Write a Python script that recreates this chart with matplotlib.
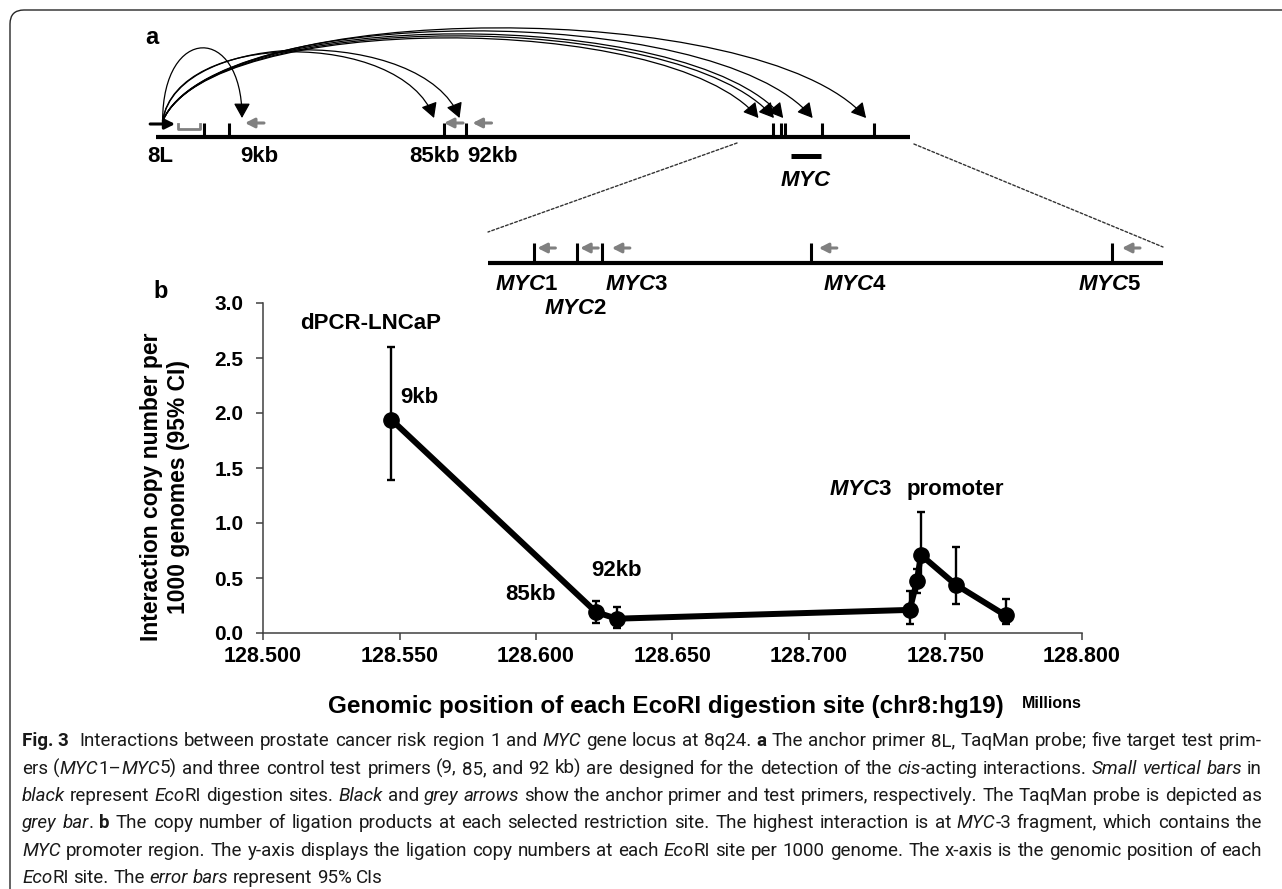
import re
import matplotlib.pyplot as plt
from matplotlib import font_manager
from matplotlib.path import Path
from matplotlib.patches import FancyArrowPatch, PathPatch, ConnectionPatch

plt.rcParams['font.family'] = ['Liberation Sans', 'DejaVu Sans']
plt.rcParams['font.weight'] = 'bold'
plt.rcParams['mathtext.fontset'] = 'custom'
plt.rcParams['mathtext.rm'] = 'Liberation Sans:bold'
plt.rcParams['mathtext.bf'] = 'Liberation Sans:bold'
plt.rcParams['mathtext.it'] = 'Liberation Sans:italic:bold'

# ---- data: EcoRI sites on chr8 (hg19, Mb) and dPCR copy numbers ----
site_names = ['9kb', '85kb', '92kb', 'MYC1', 'MYC2', 'MYC3', 'MYC4', 'MYC5']
site_pos = [128.5470, 128.6220, 128.6295, 128.7369, 128.7395, 128.7410, 128.7537, 128.7720]
copies = [1.94, 0.19, 0.13, 0.21, 0.47, 0.71, 0.44, 0.16]
ci_low = [1.39, 0.09, 0.05, 0.08, 0.36, 0.45, 0.26, 0.08]
ci_high = [2.60, 0.29, 0.24, 0.38, 0.58, 1.10, 0.78, 0.31]
x_ticks = [128.50, 128.55, 128.60, 128.65, 128.70, 128.75, 128.80]
y_ticks = [0.0, 0.5, 1.0, 1.5, 2.0, 2.5, 3.0]

# schematic features of panel a (Mb)
anchor_site = 128.5383
anchor_primer = (128.5195, 128.5282)
taqman_probe = (128.5292, 128.5369)
myc_gene = (128.7430, 128.7535)
zoom_region = (128.7242, 128.7859)

W, H = 1282, 889
fig = plt.figure(figsize=(W / 100, H / 100), dpi=100)


def px_axes(x0, y0, x1, y1):
    # axes from a pixel box, origin top-left
    return fig.add_axes([x0 / W, 1 - y1 / H, (x1 - x0) / W, (y1 - y0) / H])


def shift(ax, x, y, dx=0, dy=0):
    # move a data point by screen pixels (dy > 0 goes down)
    px, py = ax.transData.transform((x, y))
    return ax.transData.inverted().transform((px + dx, py - dy))


bg = px_axes(0, 0, W, H)
bg.set_xlim(0, W)
bg.set_ylim(H, 0)
bg.axis('off')

frame = Path([(10, H + 5), (10, 24), (10, 10), (24, 10), (W + 5, 10)],
             [Path.MOVETO, Path.LINETO, Path.CURVE3, Path.CURVE3, Path.LINETO])
bg.add_patch(PathPatch(frame, fill=False, lw=1.0, ec='0.15', clip_on=False))

# ---------------- panel a: overview ----------------
ax_a = px_axes(156, 0, 910, 300)
ax_a.set_xlim(128.52154, 128.78453)
ax_a.set_ylim(300, 0)
ax_a.axis('off')

ax_a.plot(ax_a.get_xlim(), [137, 137], color='black', lw=3, solid_capstyle='butt', clip_on=False)
ax_a.vlines([anchor_site] + site_pos, 123, 137, color='black', lw=2.2)
ax_a.annotate('', xy=(anchor_primer[1], 124), xytext=(anchor_primer[0], 124),
              arrowprops=dict(arrowstyle='-|>,head_length=0.6,head_width=0.3', color='black',
                              lw=2.2, shrinkA=0, shrinkB=0, mutation_scale=10))
ax_a.plot([taqman_probe[0], taqman_probe[0], taqman_probe[1], taqman_probe[1]],
          [124, 129, 129, 124], color='0.5', lw=2)

grey_arrow = dict(arrowstyle='-|>,head_length=0.55,head_width=0.28', color='0.5',
                  lw=2.2, shrinkA=0, shrinkB=0, mutation_scale=10)
top_primer_dx = [16, 0, 7]
for k in range(3):
    head = shift(ax_a, site_pos[k], 123, dx=top_primer_dx[k])
    tail = shift(ax_a, site_pos[k], 123, dx=top_primer_dx[k] + 19)
    ax_a.annotate('', xy=head, xytext=tail, arrowprops=grey_arrow)

# interaction arcs from the anchor to each site
arc_peak = [48, 52, 50, 38, 36, 34, 31, 28]
arc_f1 = [0.0, 0.05, 0.05, 0.08, 0.08, 0.08, 0.08, 0.08]
arc_f2 = [0.0, 0.12, 0.12, 0.15, 0.15, 0.15, 0.15, 0.15]
head_dx = [13, -10, -6, -15, -7, -2, -9, -8]
sx = (anchor_primer[0] + anchor_primer[1]) / 2
for k, x in enumerate(site_pos):
    hx = shift(ax_a, x, 118, dx=head_dx[k])[0]
    yc = (arc_peak[k] - 0.125 * (121 + 118)) / 0.75
    span = hx - sx
    arc = Path([(sx, 121), (sx + arc_f1[k] * span, yc), (hx - arc_f2[k] * span, yc), (hx, 118)],
               [Path.MOVETO, Path.CURVE4, Path.CURVE4, Path.CURVE4])
    ax_a.add_patch(FancyArrowPatch(path=arc, arrowstyle='-|>,head_length=0.9,head_width=0.5',
                                   mutation_scale=10, lw=0.9, color='black', clip_on=False))

ax_a.plot(myc_gene, [156, 156], color='black', lw=3.6, solid_capstyle='butt')
ax_a.text(sum(myc_gene) / 2, 180, r'$\mathit{MYC}$', ha='center', va='center', fontsize=16)

top_labels = [('8L', anchor_site, -57, 'left'), ('9kb', site_pos[0], 11, 'left'),
              ('85kb', site_pos[1], 16, 'right'), ('92kb', site_pos[2], 2, 'left')]
for text, x, dx, ha in top_labels:
    ax_a.text(*shift(ax_a, x, 157, dx=dx), text, ha=ha, va='center', fontsize=16)

# ---------------- panel a: MYC close-up ----------------
ax_z = px_axes(488, 0, 1163, 300)
ax_z.set_xlim(128.73408, 128.7751)
ax_z.set_ylim(300, 0)
ax_z.axis('off')

ax_z.plot(ax_z.get_xlim(), [263, 263], color='black', lw=3, solid_capstyle='butt', clip_on=False)
ax_z.vlines(site_pos[3:], 243, 263, color='black', lw=2.2)
myc_primer_dx = [3, 3, 10, 8, 10]
myc_label_dx = [-8, -2, 35, 44, -2]
myc_label_row = [285, 308, 285, 285, 285]
for k, x in enumerate(site_pos[3:]):
    head = shift(ax_z, x, 248, dx=myc_primer_dx[k])
    tail = shift(ax_z, x, 248, dx=myc_primer_dx[k] + 18)
    ax_z.annotate('', xy=head, xytext=tail, arrowprops=grey_arrow)
    ax_z.text(*shift(ax_z, x, myc_label_row[k], dx=myc_label_dx[k]),
              r'$\mathit{MYC}$' + site_names[3 + k][3:], ha='center', va='center', fontsize=16)

for xa, ya, xz, yz in [(zoom_region[0], 143, ax_z.get_xlim()[0], 232),
                       (zoom_region[1], 144, ax_z.get_xlim()[1], 247)]:
    fig.add_artist(ConnectionPatch(xyA=(xa, ya), coordsA=ax_a.transData,
                                   xyB=(xz, yz), coordsB=ax_z.transData,
                                   color='0.2', lw=1, ls=(0, (2, 1.5))))

bg.text(152, 37, 'a', ha='center', va='center', fontsize=17)
bg.text(161, 292, 'b', ha='center', va='center', fontsize=17)

# ---------------- panel b: copy numbers ----------------
ax = px_axes(263, 303, 1082, 633)
ax.set_facecolor('none')
err = [[c - lo for c, lo in zip(copies, ci_low)], [hi - c for c, hi in zip(copies, ci_high)]]
ax.errorbar(site_pos, copies, yerr=err, fmt='-o', color='black', lw=4.3, ms=11,
            elinewidth=1.7, capsize=3.2, capthick=1.7, zorder=3, clip_on=False)
ax.set_xlim(128.5, 128.8)
ax.set_ylim(0, 3.0)
for side in ['top', 'right']:
    ax.spines[side].set_visible(False)
for side in ['left', 'bottom']:
    ax.spines[side].set_color('0.25')
    ax.spines[side].set_linewidth(1.1)
ax.set_xticks(x_ticks)
ax.set_xticklabels(['%.3f' % t for t in x_ticks])
ax.set_yticks(y_ticks)
ax.set_yticklabels(['%.1f' % t for t in y_ticks])
ax.tick_params(axis='both', direction='out', length=5, width=1.1, color='0.25')
ax.tick_params(axis='x', labelsize=15.5, pad=4)
ax.tick_params(axis='y', labelsize=15, pad=9)

ax.text(0.132, 0.939, 'dPCR-LNCaP', transform=ax.transAxes, ha='center', va='center', fontsize=16)
ax.annotate('9kb', xy=(site_pos[0], copies[0]), xytext=(9, 22), textcoords='offset pixels',
            ha='left', va='center', fontsize=16)
ax.annotate('85kb', xy=(site_pos[1], copies[1]), xytext=(-40, 18), textcoords='offset pixels',
            ha='right', va='center', fontsize=16)
ax.annotate('92kb', xy=(site_pos[2], copies[2]), xytext=(0, 48), textcoords='offset pixels',
            ha='center', va='center', fontsize=16)
ax.annotate(r'$\mathit{MYC3}$', xy=(site_pos[5], copies[5]), xytext=(-29, 65),
            textcoords='offset pixels', ha='right', va='center', fontsize=16)
ax.annotate('promoter', xy=(site_pos[5], copies[5]), xytext=(-14, 65),
            textcoords='offset pixels', ha='left', va='center', fontsize=16)

bg.text(165, 487, 'Interaction copy number per\n1000 genomes (95% CI)', rotation=90,
        ha='center', va='center', multialignment='center', fontsize=16.5, linespacing=1.2)
bg.text(666, 707, 'Genomic position of each EcoRI digestion site (chr8:hg19)',
        ha='center', va='center', fontsize=17.5)
bg.text(1052, 704, 'Millions', ha='center', va='center', fontsize=11.5)

# ---------------- caption, justified word by word ----------------
caption = [
    "{b:Fig.\u00a03}  Interactions between prostate cancer risk region 1 and {i:MYC} gene locus at 8q24. {b:a} The anchor primer 8L, TaqMan probe; five target test prim-",
    "ers ({i:MYC}1\u2013{i:MYC}5) and three control test primers (9, 85, and 92 kb) are designed for the detection of the {i:cis}-acting interactions. {i:Small vertical bars} in",
    "{i:black} represent {i:Eco}RI digestion sites. {i:Black} and {i:grey arrows} show the anchor primer and test primers, respectively. The TaqMan probe is depicted as",
    "{i:grey bar}. {b:b} The copy number of ligation products at each selected restriction site. The highest interaction is at {i:MYC}-3 fragment, which contains the",
    "{i:MYC} promoter region. The y-axis displays the ligation copy numbers at each {i:Eco}RI site per 1000 genome. The x-axis is the genomic position of each",
    "{i:Eco}RI site. The {i:error bars} represent 95% CIs",
]
cap_rows = [746, 774, 801, 828, 856, 883]
cap_left, cap_right = 22, 1262
installed = {f.name for f in font_manager.fontManager.ttflist}
cap_family = next(f for f in ['Roboto', 'Lato', 'Open Sans', 'DejaVu Sans'] if f in installed)
cap_style = {'n': dict(family=cap_family, weight='normal', style='normal'),
             'i': dict(family=cap_family, weight='normal', style='italic'),
             'b': dict(family=cap_family, weight='bold', style='normal')}


def parse(line):
    pieces, pos = [], 0
    for m in re.finditer(r'\{([ib]):([^}]*)\}', line):
        if m.start() > pos:
            pieces.append((line[pos:m.start()], 'n'))
        pieces.append((m.group(2), m.group(1)))
        pos = m.end()
    if pos < len(line):
        pieces.append((line[pos:], 'n'))
    words = [[]]
    for text, st in pieces:
        for k, part in enumerate(text.split(' ')):
            if k:
                words.append([])
            if part:
                words[-1].append((part, st))
    return words


renderer = fig.canvas.get_renderer()


def measure(s, st, fs):
    t = bg.text(0, 0, s, fontsize=fs, **cap_style[st])
    w = t.get_window_extent(renderer).width
    t.remove()
    return w


lines = [parse(l) for l in caption]
fs = 13.5
while True:
    space = measure('a a', 'n', fs) - measure('aa', 'n', fs)
    widths = [[[measure(p, st, fs) for p, st in w] for w in words] for words in lines]
    longest = max(sum(map(sum, ws)) + (len(ws) - 1) * space * 0.7 for ws in widths)
    if longest <= cap_right - cap_left:
        break
    fs *= 0.98

for i, words in enumerate(lines):
    total = sum(map(sum, widths[i]))
    gap = space if i == len(lines) - 1 else (cap_right - cap_left - total) / (len(words) - 1)
    x = cap_left
    for word, ws in zip(words, widths[i]):
        for (p, st), w in zip(word, ws):
            bg.text(x, cap_rows[i], p, fontsize=fs, va='baseline', ha='left', color='0.1', **cap_style[st])
            x += w
        x += gap

fig.savefig('out.png', dpi=100)
